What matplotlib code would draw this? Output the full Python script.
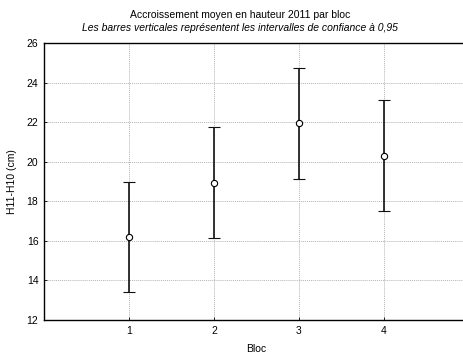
import matplotlib
matplotlib.use("Agg")
import matplotlib.pyplot as plt
import numpy as np

plt.rcParams['font.family'] = ['Liberation Sans', 'DejaVu Sans']

blocs = [1, 2, 3, 4]
means = [16.19, 18.93, 21.96, 20.31]
upper = [19.00, 21.74, 24.75, 23.14]
lower = [13.39, 16.12, 19.15, 17.52]
xticks = [1, 2, 3, 4]
yticks = [12, 14, 16, 18, 20, 22, 24, 26]

W, H = 464, 353
fig = plt.figure(figsize=(W/100, H/100), dpi=100)
ax = fig.add_axes([44/W, 1-320/H, 425/W, 277/H])

m = np.array(means)
yerr = [m - np.array(lower), np.array(upper) - m]
ax.errorbar(blocs, means, yerr=yerr, fmt='o', color='black', ecolor='#111111',
            elinewidth=1.2, capsize=4, capthick=1.2, markersize=4.5,
            markerfacecolor='white', markeredgecolor='black', markeredgewidth=0.8, zorder=3)

ax.set_xlim(0, 5)
ax.set_ylim(12, 26)
ax.set_xticks(xticks)
ax.set_yticks(yticks)
ax.grid(True, color='#b4b4b4', linestyle=(0, (1, 1)), linewidth=0.7)
ax.set_axisbelow(True)
ax.tick_params(labelsize=7.5, length=2, width=0.6, direction='in', pad=4)
for s in ax.spines.values():
    s.set_linewidth(1.0)
ax.spines['right'].set_visible(False)

ax.set_xlabel('Bloc', fontsize=7.5, labelpad=6)
ax.set_ylabel('H11-H10 (cm)', fontsize=7.5, labelpad=7)

fig.text(240/W, 1-15/H, 'Accroissement moyen en hauteur 2011 par bloc', ha='center', va='center', fontsize=7.5)
fig.text(240/W, 1-28/H, 'Les barres verticales représentent les intervalles de confiance à 0,95',
         ha='center', va='center', fontsize=7.5, style='italic')

fig.savefig('out.png', dpi=100)
